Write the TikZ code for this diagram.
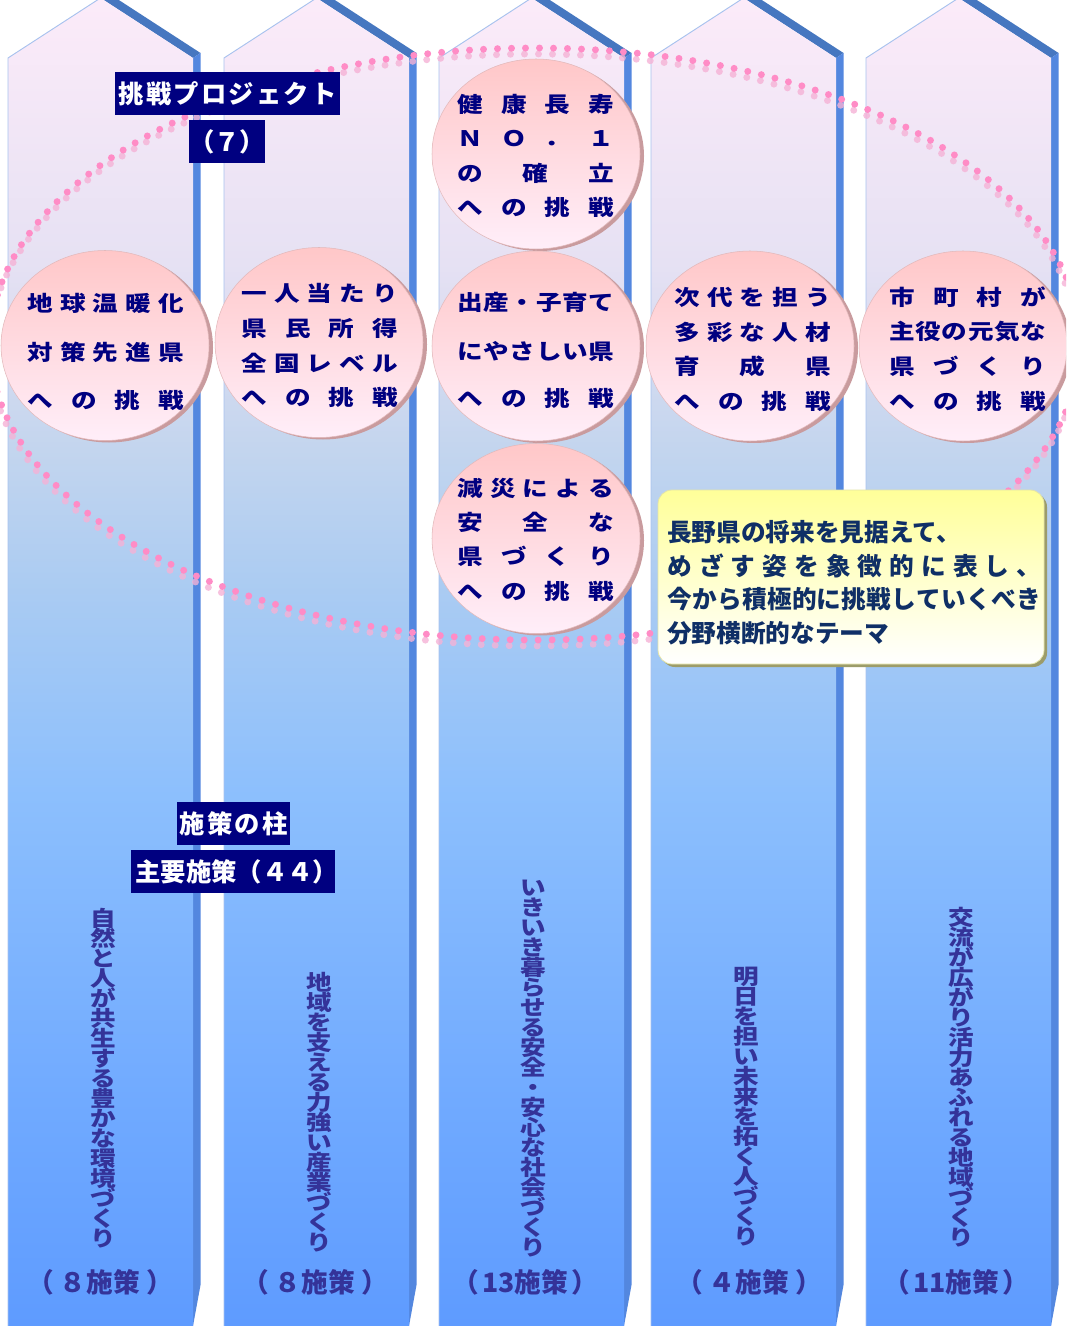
\documentclass[tikz,border=0pt]{standalone}
\usepackage{fontspec}
\newfontfamily\jp{Noto Sans CJK JP}
\newfontfamily\jpw{Noto Sans CJK JP}[FakeStretch=1.2]
\newdimen\pxu \pxu=0.75pt
\definecolor{pb1}{HTML}{FCEBF9}
\definecolor{pb2}{HTML}{E6E1F3}
\definecolor{pb3}{HTML}{C3D5EE}
\definecolor{pb4}{HTML}{A7CAF3}
\definecolor{pb5}{HTML}{8CBFFD}
\definecolor{pb6}{HTML}{6FA9FF}
\definecolor{pb7}{HTML}{5E9BFF}
\definecolor{roofband}{HTML}{4677C0}
\definecolor{sideband}{HTML}{5387DF}
\definecolor{pedge}{HTML}{A8C2EE}
\definecolor{dotc}{HTML}{FF8CC6}
\definecolor{dotsh}{HTML}{F5B2D6}
\definecolor{ctop}{HTML}{FFC7C8}
\definecolor{cbot}{HTML}{FFEEF9}
\definecolor{crim}{HTML}{C99B9E}
\definecolor{cedge}{HTML}{E2B9BB}
\definecolor{ytop}{HTML}{FFFF99}
\definecolor{ybot}{HTML}{FFFFFF}
\definecolor{yshadow}{HTML}{9C9C6A}
\definecolor{yedge}{HTML}{E4E4A8}
\definecolor{navyT}{HTML}{000080}
\definecolor{purpT}{HTML}{343399}
\definecolor{yText}{HTML}{0F2F66}
\pgfdeclareverticalshading{pillarshade}{100bp}{color(0bp)=(pb7); color(25bp)=(pb7); color(33bp)=(pb6); color(45bp)=(pb5); color(52bp)=(pb4); color(58bp)=(pb3); color(65bp)=(pb2); color(75bp)=(pb1); color(100bp)=(pb1)}
\def\sprEnd{\sprEnd}
\def\sprAux#1{\ifx\sprEnd#1\unskip\else#1\hfil\expandafter\sprAux\fi}
\newcommand\spread[2]{\hbox to #2\pxu{\sprAux#1\sprEnd}}
\def\vsAux#1{\ifx\sprEnd#1\else\hbox to 1.2em{\hss#1\hss}\expandafter\vsAux\fi}
\newcommand\vstack[1]{\vbox{\baselineskip=15pt\lineskip=0pt\lineskiplimit=-100pt\vsAux#1\sprEnd}}
\newcommand\parlbl[1]{\hbox to 146\pxu{（\hfil #1\hfil ）}}
\begin{document}
\begin{tikzpicture}[x=0.75pt,y=-0.75pt,
  ctext/.style={font=\jpw\bfseries\fontsize{16}{16}\selectfont, text=navyT, inner sep=0pt, anchor=west},
  ytext/.style={font=\jp\bfseries\fontsize{18.5}{18.5}\selectfont, text=yText, inner sep=0pt, anchor=west},
  vtext/.style={font=\jpw\bfseries\fontsize{16}{16}\selectfont, text=purpT, inner sep=0pt, anchor=north},
  btext/.style={font=\jp\bfseries\fontsize{20}{20}\selectfont, text=purpT, inner sep=0pt},
  lblbox/.style={fill=navyT, text=white, font=\jp\bfseries\fontsize{19}{19}\selectfont, inner sep=0pt},
  dotmain/.style={draw=dotc, line width=5.2pt, line cap=round, dash pattern=on 0pt off 10.5pt},
  dotshadow/.style={draw=dotsh, line width=5.2pt, line cap=round, dash pattern=on 0pt off 10.5pt, opacity=0.8},
  circ/.style={top color=ctop, bottom color=cbot, draw=cedge, line width=0.4pt},
  circsh/.style={fill=crim}
]
\useasboundingbox (0,0) rectangle (1066,1326);
\clip (0,0) rectangle (1066,1326);
\fill[white] (0,0) rectangle (1066,1326);
% pillars
\foreach \L in {8,224,439,651,866}{
  \pgfmathsetmacro\R{\L+185}
  \pgfmathsetmacro\C{\L+92.5}
  \fill[roofband] (\C,-2) -- (\R,58) -- (\R+7.5,53) -- (\C+7.5,-7) -- cycle;
  \fill[sideband] (\R,58) -- (\R+7.5,53) -- (\R+7.5,1285) -- (\R,1326) -- cycle;
  \shade[shading=pillarshade] (\L,1326) -- (\L,58) -- (\C,-2) -- (\R,58) -- (\R,1326) -- cycle;
  \draw[pedge, line width=0.7pt] (\L,1326) -- (\L,58) -- (\C,-2);
}
% dotted ellipse
\draw[dotshadow, shift={(-1,6)}] (535,344) ellipse [x radius=545, y radius=296];
\draw[dotmain] (535,344) ellipse [x radius=545, y radius=296];
% circles
\foreach \cx/\cy in {105/345.5, 319/342.5, 536/154, 536/346, 536/538.5, 750/346, 963/346}{
  \fill[circsh] (\cx+4,\cy+2) ellipse [x radius=104, y radius=95];
  \shade[circ] (\cx,\cy) ellipse [x radius=104, y radius=95];
}
% circle texts
\node[ctext] (a1) at (27,303) {\spread{地球温暖化}{157}};
\node[ctext] (a2) at (27,352) {\spread{対策先進県}{157}};
\node[ctext] (a3) at (27,400) {\spread{への挑戦}{157}};
\node[ctext] (b1) at (241,293) {\spread{一人当たり}{157}};
\node[ctext] (b2) at (241,328) {\spread{県民所得}{157}};
\node[ctext] (b3) at (241,363) {\spread{全国レベル}{157}};
\node[ctext] (b4) at (241,397) {\spread{への挑戦}{157}};
\node[ctext] (c1) at (457,104) {\spread{健康長寿}{157}};
\node[ctext] (c2) at (457,139) {\spread{ＮＯ．１}{157}};
\node[ctext] (c3) at (457,173) {\spread{の確立}{157}};
\node[ctext] (c4) at (457,207) {\spread{への挑戦}{157}};
\node[ctext] (d1) at (457,302) {\spread{出産・子育て}{157}};
\node[ctext] (d2) at (457,351) {\spread{にやさしい県}{157}};
\node[ctext] (d3) at (457,398) {\spread{への挑戦}{157}};
\node[ctext] (e1) at (457,488) {\spread{減災による}{157}};
\node[ctext] (e2) at (457,522) {\spread{安全な}{157}};
\node[ctext] (e3) at (457,556) {\spread{県づくり}{157}};
\node[ctext] (e4) at (457,591) {\spread{への挑戦}{157}};
\node[ctext] (f1) at (674,297) {\spread{次代を担う}{157}};
\node[ctext] (f2) at (674,332) {\spread{多彩な人材}{157}};
\node[ctext] (f3) at (674,366) {\spread{育成県}{157}};
\node[ctext] (f4) at (674,401) {\spread{への挑戦}{157}};
\node[ctext] (g1) at (889,297) {\spread{市町村が}{157}};
\node[ctext] (g2) at (889,332) {\spread{主役の元気な}{157}};
\node[ctext] (g3) at (889,366) {\spread{県づくり}{157}};
\node[ctext] (g4) at (889,401) {\spread{への挑戦}{157}};
% yellow box
\fill[yshadow, rounded corners=10.5pt] (661,493) rectangle (1047,667);
\node[rounded corners=10.5pt, top color=ytop, bottom color=ybot, draw=yedge, line width=0.6pt, minimum width=386\pxu, minimum height=174\pxu, inner sep=0pt] (ybox) at (851,577) {};
\node[ytext] (y1) at (667,532) {長野県の将来を見据えて、};
\node[ytext] (y2) at (667,566) {\spread{めざす姿を象徴的に表し、}{374}};
\node[ytext] (y3) at (667,599) {\spread{今から積極的に挑戦していくべき}{374}};
\node[ytext] (y4) at (667,633) {分野横断的なテーマ};
% label boxes
\node[lblbox, minimum width=225\pxu, minimum height=43\pxu] (l1) at (227.5,93.5) {\spread{挑戦プロジェクト}{218}};
\node[lblbox, minimum width=68\pxu, minimum height=43\pxu] (l2) at (227,141.5) {（７）};
\node[lblbox, minimum width=113\pxu, minimum height=43\pxu] (l3) at (233.5,823.5) {\spread{施策の柱}{108}};
\node[lblbox, minimum width=204\pxu, minimum height=43\pxu] (l4) at (233,871.5) {\spread{主要施策（４４）}{195}};
% vertical texts
\node[vtext] (v1) at (103.5,908) {\vstack{自然と人が共生する豊かな環境づくり}};
\node[vtext] (v2) at (319.5,972) {\vstack{地域を支える力強い産業づくり}};
\node[vtext] (v3) at (533.5,880) {\vstack{いきいき暮らせる安全・安心な社会づくり}};
\node[vtext] (v4) at (746.5,967) {\vstack{明日を担い未来を拓く人づくり}};
\node[vtext] (v5) at (961,907) {\vstack{交流が広がり活力あふれる地域づくり}};
% bottom labels
\node[btext] (n1) at (100,1282) {\parlbl{８施策}};
\node[btext] (n2) at (315,1282) {\parlbl{８施策}};
\node[btext] (n3) at (525,1282) {\parlbl{13施策}};
\node[btext] (n4) at (749,1282) {\parlbl{４施策}};
\node[btext] (n5) at (956,1282) {\parlbl{11施策}};
\end{tikzpicture}
\end{document}
